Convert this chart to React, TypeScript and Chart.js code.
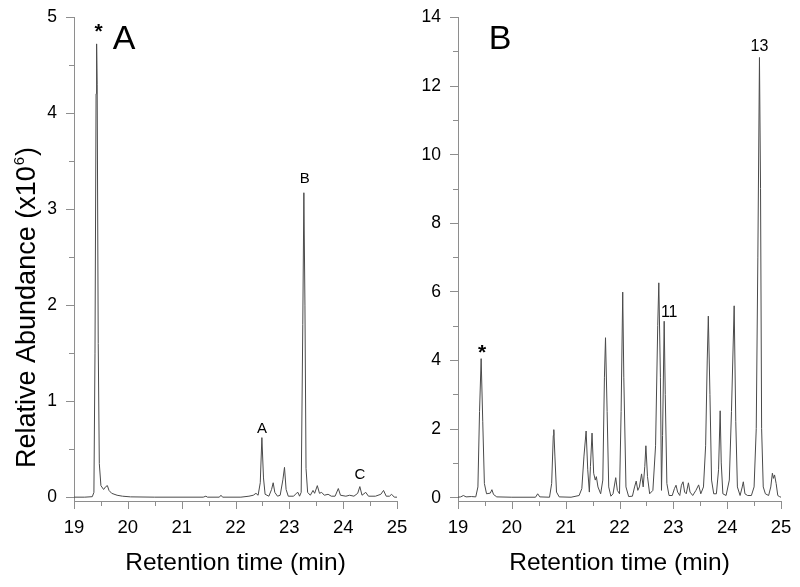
import React, { useEffect, useRef } from 'react';
import { Chart, registerables } from 'chart.js';

Chart.register(...registerables);

// ---------- Data ----------
const timeA = [
  19.0, 19.2, 19.34, 19.37, 19.39, 19.41, 19.42, 19.43, 19.45, 19.47, 19.5, 19.55, 19.59, 19.62, 19.65, 19.7, 19.8, 19.9, 20.05, 20.5,
  21.4, 21.45, 21.48, 21.7, 21.73, 21.76, 22.1, 22.25, 22.33, 22.38, 22.42, 22.46, 22.49, 22.52, 22.55, 22.62, 22.67, 22.7, 22.73,
  22.78, 22.83, 22.88, 22.91, 22.94, 22.98, 23.08, 23.13, 23.16, 23.19, 23.22, 23.25, 23.27, 23.29, 23.31, 23.34, 23.39, 23.44,
  23.47, 23.52, 23.56, 23.6, 23.65, 23.72, 23.78, 23.85, 23.91, 23.95, 24.05, 24.12, 24.2, 24.27, 24.31, 24.35, 24.42, 24.47,
  24.6, 24.7, 24.75, 24.8, 24.86, 24.9, 24.95, 25.0,
];
const abundanceA = [
  0, 0, 0.005, 0.05, 1.5, 4.2, 4.72, 4.3, 1.6, 0.35, 0.12, 0.08, 0.11, 0.12, 0.07, 0.04, 0.02, 0.01, 0.003, 0,
  0, 0.01, 0, 0, 0.02, 0, 0, 0.01, 0.02, 0.04, 0.02, 0.15, 0.62, 0.2, 0.03, 0.01, 0.08, 0.15, 0.05,
  0.01, 0.02, 0.18, 0.31, 0.08, 0.01, 0.01, 0.04, 0.05, 0.01, 0.05, 1.8, 3.17, 2.0, 0.3, 0.05, 0.02, 0.07,
  0.04, 0.12, 0.04, 0.05, 0.02, 0.03, 0.01, 0.01, 0.09, 0.02, 0.01, 0.02, 0.01, 0.04, 0.11, 0.02, 0.05, 0.01,
  0.01, 0.03, 0.07, 0.01, 0.01, 0.03, 0, 0,
];

const timeB = [
  19.0, 19.05, 19.1, 19.15, 19.25, 19.33, 19.37, 19.4, 19.43, 19.46, 19.49, 19.53, 19.6, 19.63, 19.66, 19.72, 20.0,
  20.44, 20.48, 20.52, 20.7, 20.74, 20.77, 20.78, 20.8, 20.83, 20.88, 21.1, 21.25, 21.3, 21.34, 21.38, 21.41, 21.44,
  21.46, 21.49, 21.52, 21.55, 21.57, 21.6, 21.65, 21.69, 21.72, 21.74, 21.77, 21.8, 21.84, 21.88, 21.93, 21.96, 22.0,
  22.03, 22.06, 22.08, 22.12, 22.17, 22.24, 22.28, 22.31, 22.34, 22.37, 22.41, 22.44, 22.47, 22.49, 22.52, 22.56,
  22.62, 22.67, 22.71, 22.73, 22.76, 22.78, 22.8, 22.83, 22.85, 22.88, 22.92, 22.98, 23.02, 23.05, 23.08, 23.12,
  23.15, 23.18, 23.21, 23.24, 23.28, 23.31, 23.36, 23.42, 23.47, 23.51, 23.56, 23.6, 23.63, 23.65, 23.68, 23.71,
  23.75, 23.8, 23.84, 23.87, 23.89, 23.92, 23.98, 24.04, 24.08, 24.13, 24.16, 24.19, 24.24, 24.28, 24.3, 24.33,
  24.38, 24.45, 24.5, 24.54, 24.57, 24.6, 24.62, 24.64, 24.67, 24.71, 24.77, 24.81, 24.84, 24.86, 24.88, 24.91,
  24.94, 24.97, 25.0,
];
const abundanceB = [
  0, 0.01, 0.05, 0.01, 0.02, 0.01, 0.3, 2.5, 4.04, 2.2, 0.4, 0.1, 0.12, 0.22, 0.08, 0.01, 0,
  0, 0.1, 0.01, 0, 0.4, 1.8, 1.97, 1.2, 0.15, 0.01, 0, 0.05, 0.25, 1.2, 1.93, 0.8, 0.15,
  0.9, 1.87, 0.7, 0.5, 0.6, 0.3, 0.1, 0.5, 3.5, 4.65, 2.5, 0.3, 0.03, 0.1, 0.57, 0.2, 0.1,
  2.5, 5.98, 3.5, 0.3, 0.02, 0.03, 0.3, 0.47, 0.2, 0.3, 0.68, 0.3, 0.9, 1.5, 0.6, 0.1,
  0.2, 1.5, 5.0, 6.25, 3.5, 0.2, 1.8, 5.13, 3.0, 0.4, 0.05, 0.05, 0.25, 0.35, 0.15, 0.05,
  0.35, 0.45, 0.15, 0.1, 0.42, 0.15, 0.05, 0.2, 0.36, 0.1, 0.3, 1.5, 4.0, 5.28, 3.0, 0.5,
  0.1, 0.1, 0.8, 2.52, 1.0, 0.1, 0.05, 0.5, 2.5, 5.58, 2.2, 0.3, 0.05, 0.3, 0.45, 0.1,
  0.05, 0.05, 0.3, 2.0, 7.0, 12.82, 9.0, 2.0, 0.3, 0.1, 0.05, 0.3, 0.7, 0.55, 0.65, 0.4,
  0.05, 0.02, 0,
];

const xTickValues = [19, 19.5, 20, 20.5, 21, 21.5, 22, 22.5, 23, 23.5, 24, 24.5, 25];
const majorXTicks = [19, 20, 21, 22, 23, 24, 25];
const yTickValuesA = [0, 0.5, 1, 1.5, 2, 2.5, 3, 3.5, 4, 4.5, 5];
const yTickValuesB = [0, 1, 2, 3, 4, 5, 6, 7, 8, 9, 10, 11, 12, 13, 14];
const majorYTicksA = [0, 1, 2, 3, 4, 5];
const majorYTicksB = [0, 2, 4, 6, 8, 10, 12, 14];

const peakLabelsA = ['*', 'A', 'B', 'C'];
const peakTimesA = [19.42, 22.49, 23.27, 24.31];
const peakHeightsA = [4.72, 0.62, 3.17, 0.11];

const peakLabelsB = ['*', '11', '13'];
const peakTimesB = [19.43, 22.83, 24.6];
const peakHeightsB = [4.04, 5.13, 12.82];

const panelTitleA = 'A';
const panelTitleB = 'B';
const yAxisTitle = 'Relative Abundance (x10';
const yAxisTitleSup = '6';
const xAxisTitle = 'Retention time (min)';

// ---------- Styles ----------
const FONT = '"Liberation Sans", Arial, Helvetica, sans-serif';
const AXIS_GRAY = '#8e8e8e';
const TRACE = '#4a4a4a';

type PeakStyle = { dx: number; dy: number; size: number; bold?: boolean };

function makeAnnotationPlugin(
  id: string,
  labels: string[],
  times: number[],
  heights: number[],
  styles: PeakStyle[],
  panelTitle: string,
  panelDx: number,
  drawYTitle: boolean,
  yTicks: number[],
  majorY: number[],
) {
  return {
    id,
    afterDraw(chart: any) {
      const ctx = chart.ctx as CanvasRenderingContext2D;
      const xs = chart.scales.x;
      const ys = chart.scales.y;
      const area = chart.chartArea;
      ctx.save();

      // tick marks
      ctx.strokeStyle = AXIS_GRAY;
      ctx.lineWidth = 1;
      ctx.beginPath();
      xTickValues.forEach((v) => {
        const px = Math.round(xs.getPixelForValue(v)) + 0.5;
        const len = majorXTicks.includes(v) ? 8 : 5;
        ctx.moveTo(px, area.bottom);
        ctx.lineTo(px, area.bottom + len);
      });
      yTicks.forEach((v) => {
        const py = Math.round(ys.getPixelForValue(v)) + 0.5;
        const len = majorY.includes(v) ? 8 : 5;
        ctx.moveTo(area.left, py);
        ctx.lineTo(area.left - len, py);
      });
      ctx.stroke();

      // tick labels
      ctx.fillStyle = '#000';
      ctx.textBaseline = 'middle';
      ctx.textAlign = 'center';
      ctx.font = `18.5px ${FONT}`;
      majorXTicks.forEach((v) => {
        ctx.fillText(String(v), xs.getPixelForValue(v), area.bottom + 27);
      });
      ctx.textAlign = 'right';
      ctx.font = `17.5px ${FONT}`;
      majorY.forEach((v) => {
        ctx.fillText(String(v), area.left - 17, ys.getPixelForValue(v) + 0.5);
      });

      // peak labels
      ctx.textAlign = 'center';
      labels.forEach((lab, i) => {
        const st = styles[i];
        const px = xs.getPixelForValue(times[i]) + st.dx;
        const py = ys.getPixelForValue(heights[i]) - st.dy;
        ctx.font = `${st.bold ? 'bold ' : ''}${st.size}px ${FONT}`;
        ctx.fillText(lab, px, py);
      });
      // panel title
      ctx.font = `34px ${FONT}`;
      ctx.fillText(panelTitle, area.left + panelDx, area.top + 23);
      if (drawYTitle) {
        ctx.translate(35, 468);
        ctx.rotate(-Math.PI / 2);
        ctx.textAlign = 'left';
        ctx.textBaseline = 'alphabetic';
        ctx.font = `27px ${FONT}`;
        ctx.fillText(yAxisTitle, 0, 0);
        let w = ctx.measureText(yAxisTitle).width;
        ctx.font = `15px ${FONT}`;
        ctx.fillText(yAxisTitleSup, w + 1, -11);
        w += ctx.measureText(yAxisTitleSup).width + 2;
        ctx.font = `27px ${FONT}`;
        ctx.fillText(')', w, 0);
      }
      ctx.restore();
    },
  };
}

function buildConfig(
  times: number[],
  values: number[],
  yTicks: number[],
  yMin: number,
  yMax: number,
  yWidth: number,
  padRight: number,
  plugin: any,
) {
  const points = times.map((t, i) => ({ x: t, y: values[i] }));
  return {
    type: 'scatter' as const,
    data: {
      datasets: [
        {
          data: points,
          showLine: true,
          borderColor: TRACE,
          borderWidth: 1,
          pointRadius: 0,
          tension: 0,
        },
      ],
    },
    options: {
      responsive: false,
      animation: false as const,
      layout: { padding: { top: 17, right: padRight, bottom: 0, left: 0 } },
      plugins: { legend: { display: false }, tooltip: { enabled: false } },
      scales: {
        x: {
          type: 'linear' as const,
          min: 19,
          max: 25,
          afterBuildTicks: (scale: any) => {
            scale.ticks = xTickValues.map((v) => ({ value: v }));
          },
          afterFit: (scale: any) => {
            scale.height = 86;
          },
          ticks: { display: false },
          grid: { display: false, drawOnChartArea: false, drawTicks: false },
          border: { display: true, color: AXIS_GRAY, width: 1 },
          title: {
            display: true,
            text: xAxisTitle,
            color: '#000',
            font: { family: FONT, size: 24.5 },
            padding: { top: 0, bottom: 9 },
          },
        },
        y: {
          type: 'linear' as const,
          min: yMin,
          max: yMax,
          afterBuildTicks: (scale: any) => {
            scale.ticks = yTicks.map((v) => ({ value: v }));
          },
          afterFit: (scale: any) => {
            scale.width = yWidth;
          },
          ticks: { display: false },
          grid: { display: false, drawOnChartArea: false, drawTicks: false },
          border: { display: true, color: AXIS_GRAY, width: 1 },
        },
      },
    },
    plugins: [plugin],
  };
}

export default function App() {
  const refA = useRef<HTMLCanvasElement | null>(null);
  const refB = useRef<HTMLCanvasElement | null>(null);

  useEffect(() => {
    const pluginA = makeAnnotationPlugin(
      'annA',
      peakLabelsA,
      peakTimesA,
      peakHeightsA,
      [
        { dx: 2, dy: 12, size: 21, bold: true },
        { dx: 0, dy: 9, size: 15 },
        { dx: 1, dy: 14, size: 15 },
        { dx: 0, dy: 12, size: 15 },
      ],
      panelTitleA,
      50,
      true,
      yTickValuesA,
      majorYTicksA,
    );
    const pluginB = makeAnnotationPlugin(
      'annB',
      peakLabelsB,
      peakTimesB,
      peakHeightsB,
      [
        { dx: 1, dy: 5, size: 21, bold: true },
        { dx: 5, dy: 9, size: 16 },
        { dx: 0, dy: 11, size: 16 },
      ],
      panelTitleB,
      42,
      false,
      yTickValuesB,
      majorYTicksB,
    );
    const chartA = new Chart(
      refA.current as HTMLCanvasElement,
      buildConfig(timeA, abundanceA, yTickValuesA, -0.04, 5, 74, 23, pluginA) as any,
    );
    const chartB = new Chart(
      refB.current as HTMLCanvasElement,
      buildConfig(timeB, abundanceB, yTickValuesB, -0.11, 14, 58, 19, pluginB) as any,
    );
    return () => {
      chartA.destroy();
      chartB.destroy();
    };
  }, []);

  return (
    <div style={{ position: 'fixed', left: 0, top: 0, width: 800, height: 587, background: '#fff' }}>
      <canvas
        ref={refA}
        width={420}
        height={587}
        style={{ position: 'absolute', left: 0, top: 0, width: 420, height: 587 }}
      />
      <canvas
        ref={refB}
        width={400}
        height={587}
        style={{ position: 'absolute', left: 400, top: 0, width: 400, height: 587 }}
      />
    </div>
  );
}
